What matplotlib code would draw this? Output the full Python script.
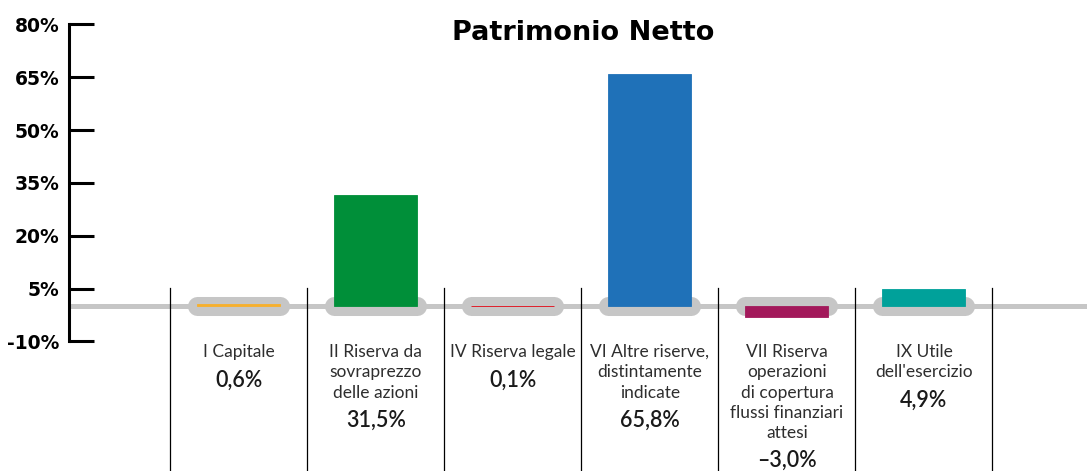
import matplotlib.pyplot as plt

categories = ["I Capitale", "II Riserva da\nsovraprezzo\ndelle azioni", "IV Riserva legale",
              "VI Altre riserve,\ndistintamente\nindicate",
              "VII Riserva\noperazioni\ndi copertura\nflussi finanziari\nattesi",
              "IX Utile\ndell'esercizio"]
values = [0.6, 31.5, 0.1, 65.8, -3.0, 4.9]
value_labels = ["0,6%", "31,5%", "0,1%", "65,8%", "\u20133,0%", "4,9%"]
colors = ["#f7b02d", "#008f39", "#e30613", "#1f71b8", "#a3195b", "#00a19a"]
yticks = [-10, 5, 20, 35, 50, 65, 80]
ytick_labels = ["-10%", "5%", "20%", "35%", "50%", "65%", "80%"]

W, H = 1087, 471
PX = 3.522          # pixels per percentage point
ZERO = 306.2        # pixel row of 0%
def py(row):        # pixel row -> data y
    return (ZERO - row) / PX

fig = plt.figure(figsize=(W / 100, H / 100), dpi=100)
ax = fig.add_axes([69 / W, 0, 1 - 69 / W, 1])
ax.set_xlim(-1.24, 6.19)
ax.set_ylim(py(H), py(0))

GREY = "#c6c6c6"
BW = 0.606
x = list(range(len(values)))

# grey baseline + pills
ax.axhline(0, color=GREY, lw=3.6, zorder=1)
for i in x:
    ax.plot([i - BW / 2, i + BW / 2], [0, 0], color=GREY, lw=13.7,
            solid_capstyle="round", zorder=2)
ax.bar(x, values, width=BW, color=colors, edgecolor=colors, lw=0.6, zorder=3)

# separators
for i in range(len(values) + 1):
    ax.plot([i - 0.5, i - 0.5], [py(288), py(H)], color="black", lw=0.9, zorder=1)

# labels under each category
for i, (name, val) in enumerate(zip(categories, value_labels)):
    n = name.count("\n") + 1
    ax.text(i, py(344), name, ha="center", va="top", fontsize=12.5,
            family="Lato", fontweight="normal", color="#2e2e2e", linespacing=1.33)
    ax.text(i, py(352 + 20 * (n - 1) + 28), val, ha="center", va="center",
            fontsize=15.5, family="Lato", fontweight="semibold", color="#1a1a1a")

# y axis
for s in ["top", "right", "bottom"]:
    ax.spines[s].set_visible(False)
ax.spines["left"].set_linewidth(2.2)
ax.spines["left"].set_bounds(-10, 80)
ax.set_yticks(yticks)
ax.set_yticklabels(ytick_labels, fontsize=13.5, family="DejaVu Sans", fontweight="bold")
ax.tick_params(axis="y", direction="in", length=18, width=2.2, pad=7)
ax.set_xticks([])

fig.text(583 / W, 1 - 33 / H, "Patrimonio Netto", ha="center", va="center",
         fontsize=19.5, family="DejaVu Sans", fontweight="bold")

fig.savefig("out.png", dpi=100)
